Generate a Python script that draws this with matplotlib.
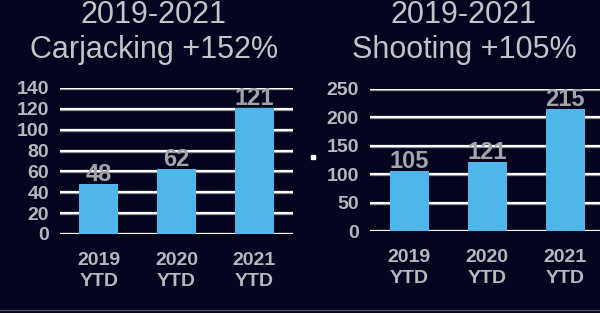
import matplotlib
matplotlib.use("Agg")
import matplotlib.pyplot as plt
from matplotlib.lines import Line2D

plt.rcParams['font.family'] = ['Liberation Sans', 'DejaVu Sans']

# Data
categories = ["2019\nYTD", "2020\nYTD", "2021\nYTD"]
carjacking = [48, 62, 121]
shooting = [105, 121, 215]
titles = [("2019-2021", "Carjacking +152%"), ("2019-2021", "Shooting +105%")]
yticks_left = [0, 20, 40, 60, 80, 100, 120, 140]
yticks_right = [0, 50, 100, 150, 200, 250]

bg = "#03041e"
bar_color = "#4fb6ea"
text_gray = "#b8b8bc"
label_gray = "#a4a4a8"

fig = plt.figure(figsize=(6, 3.13), dpi=100)
fig.patch.set_facecolor(bg)

ax1 = fig.add_axes([60/600, 79/313, 233/600, 146/313])
ax2 = fig.add_axes([370/600, 82/313, 234/600, 142/313])


def draw(ax, vals, ticks, ymax):
    ax.set_facecolor(bg)
    x = range(len(vals))
    for t in ticks:
        ax.axhline(t, color="#8a8a90", lw=2.4, zorder=1)
        ax.axhline(t, color="white", lw=1.5, zorder=1.5)
    ax.bar(x, vals, width=0.5, color=bar_color, zorder=2)
    for i, v in zip(x, vals):
        ax.text(i, v - ymax * 0.012, str(v), ha="center", va="bottom",
                fontsize=17, fontweight="bold", color=label_gray, zorder=3)
    ax.set_xlim(-0.5, 2.5)
    ax.set_ylim(0, ymax)
    ax.set_yticks(ticks)
    ax.set_xticks(list(x))
    ax.set_xticklabels(categories)
    for s in ax.spines.values():
        s.set_visible(False)
    ax.tick_params(length=0, colors=text_gray, labelsize=14)
    ax.tick_params(axis="y", pad=8)
    ax.tick_params(axis="x", pad=13)
    for lbl in ax.get_xticklabels() + ax.get_yticklabels():
        lbl.set_fontweight("bold")
        lbl.set_color(text_gray)
    for lbl in ax.get_xticklabels():
        lbl.set_linespacing(1.3)


draw(ax1, carjacking, yticks_left, 140)
draw(ax2, shooting, yticks_right, 250)

title_color = "#c4c4c8"
for (l1, l2), cx in zip(titles, [154/600, 464/600]):
    fig.text(cx, 1 - 15/313, l1, ha="center", va="center", fontsize=22, color=title_color)
    fig.text(cx, 1 - 50/313, l2, ha="center", va="center", fontsize=22, color=title_color)

# small marker dot between charts and bottom rule
fig.add_artist(Line2D([313/600], [1 - 157/313], marker="s", markersize=2.5,
                      color="white", transform=fig.transFigure))
fig.add_artist(Line2D([0, 1], [3/313, 3/313], color="#555560", lw=1,
                      transform=fig.transFigure))

fig.savefig("out.png", dpi=100, facecolor=bg)
